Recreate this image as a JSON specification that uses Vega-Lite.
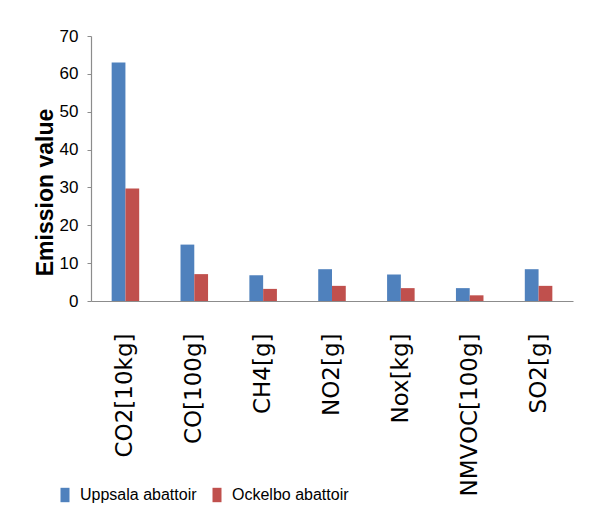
{
  "$schema": "https://vega.github.io/schema/vega-lite/v6.json",
  "autosize": "none",
  "width": 482,
  "height": 265,
  "padding": {"left": 91, "top": 36, "right": 24, "bottom": 230},
  "background": "white",
  "data": {
    "values": [
      {"pollutant": "CO2[10kg]", "site": "Uppsala abattoir", "value": 63},
      {"pollutant": "CO2[10kg]", "site": "Ockelbo abattoir", "value": 29.7},
      {"pollutant": "CO[100g]", "site": "Uppsala abattoir", "value": 14.9},
      {"pollutant": "CO[100g]", "site": "Ockelbo abattoir", "value": 7.1},
      {"pollutant": "CH4[g]", "site": "Uppsala abattoir", "value": 6.8},
      {"pollutant": "CH4[g]", "site": "Ockelbo abattoir", "value": 3.2},
      {"pollutant": "NO2[g]", "site": "Uppsala abattoir", "value": 8.4},
      {"pollutant": "NO2[g]", "site": "Ockelbo abattoir", "value": 4.0},
      {"pollutant": "Nox[kg]", "site": "Uppsala abattoir", "value": 7.0},
      {"pollutant": "Nox[kg]", "site": "Ockelbo abattoir", "value": 3.4},
      {"pollutant": "NMVOC[100g]", "site": "Uppsala abattoir", "value": 3.4},
      {"pollutant": "NMVOC[100g]", "site": "Ockelbo abattoir", "value": 1.5},
      {"pollutant": "SO2[g]", "site": "Uppsala abattoir", "value": 8.4},
      {"pollutant": "SO2[g]", "site": "Ockelbo abattoir", "value": 4.0}
    ]
  },
  "mark": {"type": "bar"},
  "encoding": {
    "x": {
      "field": "pollutant",
      "type": "nominal",
      "sort": null,
      "scale": {"paddingInner": 0.6, "paddingOuter": 0.3},
      "axis": {
        "title": null,
        "labelAngle": -90,
        "labelAlign": "right",
        "labelBaseline": "middle",
        "labelPadding": 32,
        "labelFont": "DejaVu Sans",
        "labelFontSize": 23,
        "labelColor": "#000000",
        "labelLimit": 300,
        "ticks": false,
        "domainColor": "#8c8c8c",
        "domainWidth": 1.2
      }
    },
    "xOffset": {
      "field": "site",
      "type": "nominal",
      "sort": ["Uppsala abattoir", "Ockelbo abattoir"],
      "scale": {"paddingInner": 0, "paddingOuter": 0}
    },
    "y": {
      "field": "value",
      "type": "quantitative",
      "scale": {"domain": [0, 70], "nice": false},
      "axis": {
        "title": "Emission value",
        "titleFont": "Liberation Sans",
        "titleFontSize": 23,
        "titleFontWeight": "bold",
        "titleColor": "#000000",
        "titleX": -39,
        "titleY": 156,
        "titleAlign": "center",
        "titleBaseline": "alphabetic",
        "titleAngle": -90,
        "values": [0, 10, 20, 30, 40, 50, 60, 70],
        "grid": false,
        "labelFont": "Liberation Sans",
        "labelFontSize": 17,
        "labelColor": "#000000",
        "labelPadding": 9,
        "tickSize": 4,
        "tickColor": "#8c8c8c",
        "domainColor": "#8c8c8c",
        "domainWidth": 1.2
      }
    },
    "color": {
      "field": "site",
      "type": "nominal",
      "sort": ["Uppsala abattoir", "Ockelbo abattoir"],
      "scale": {"domain": ["Uppsala abattoir", "Ockelbo abattoir"], "range": ["#4F81BD", "#C0504D"]},
      "legend": {
        "title": null,
        "orient": "none",
        "direction": "horizontal",
        "legendX": -34,
        "legendY": 451,
        "symbolType": "M-1,-1.6L1,-1.6L1,1.6L-1,1.6Z",
        "symbolSize": 81,
        "symbolStrokeWidth": 0,
        "symbolOpacity": 1,
        "labelFont": "Liberation Sans",
        "labelFontSize": 16,
        "labelColor": "#000000",
        "labelOffset": 7,
        "columnPadding": 12
      }
    }
  },
  "config": {
    "view": {"stroke": null}
  }
}
